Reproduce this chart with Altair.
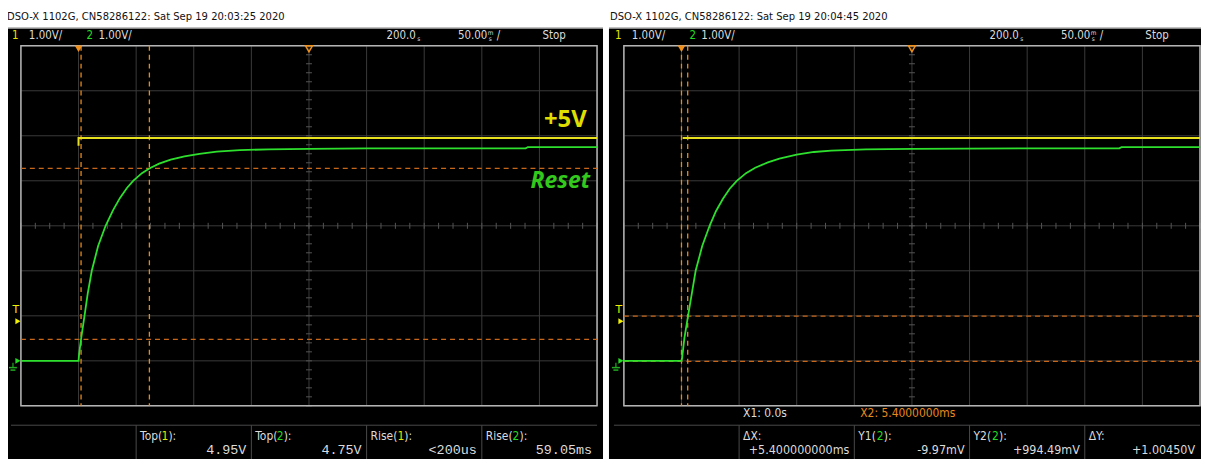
import altair as alt
import pandas as pd

# ---------------- data ----------------
# time in ms relative to trigger, volts
left_green_t = [-50, 0, 0.5, 2.2, 5.2, 8, 11.5, 17, 23.5, 30, 36, 42, 47.4, 55, 61.8, 70, 80, 92,
                105, 120, 140, 165, 200, 250, 300, 388, 390, 450]
left_green_v = [0, 0, 0.15, 0.48, 1.0, 1.5, 2.0, 2.55, 3.0, 3.35, 3.62, 3.84, 4.0, 4.17, 4.28, 4.38,
                4.47, 4.54, 4.6, 4.65, 4.68, 4.70, 4.71, 4.72, 4.72, 4.72, 4.75, 4.75]
right_green_t = [-50, 0, 0.5, 2.5, 5.7, 9, 12.3, 18, 24.4, 30, 36, 42, 48, 56, 64, 75, 85, 100,
                 115, 130, 160, 200, 300, 380, 382, 450]
right_green_v = [0, 0, 0.05, 0.5, 1.0, 1.5, 2.0, 2.55, 3.0, 3.33, 3.6, 3.83, 4.0, 4.17, 4.29, 4.41,
                 4.49, 4.58, 4.64, 4.67, 4.70, 4.71, 4.72, 4.72, 4.75, 4.75]
left_yellow_t = [0, 0, 450]
left_yellow_v = [4.78, 4.95, 4.95]
right_yellow_t = [1.0, 450]
right_yellow_v = [4.95, 4.95]

left_cursor_t = [2.2, 61.5]
left_cursor_v = [0.475, 4.275]
right_cursor_t = [0.0, 5.4]
right_cursor_v = [-0.00997, 0.99449]

trigger_level = 0.88
trigger_time = 0
delay_time = 200

left_title = "DSO-X 1102G, CN58286122: Sat Sep 19 20:03:25 2020"
right_title = "DSO-X 1102G, CN58286122: Sat Sep 19 20:04:45 2020"

left_meas = [("Top(", "1", "):", "4.95V", "#e6e600"),
             ("Top(", "2", "):", "4.75V", "#22dd22"),
             ("Rise(", "1", "):", "<200us", "#e6e600"),
             ("Rise(", "2", "):", "59.05ms", "#22dd22")]
right_meas = [("\u0394X:", "", "", "+5.400000000ms", None),
              ("Y1(", "2", "):", "-9.97mV", "#22dd22"),
              ("Y2(", "2", "):", "+994.49mV", "#22dd22"),
              ("\u0394Y:", "", "", "+1.00450V", None)]

# ---------------- style ----------------
NARROW = "DejaVu Sans Condensed, Liberation Sans Narrow, sans-serif"
MONO = "Liberation Mono, DejaVu Sans Mono, monospace"
TXT = "#dcdcdc"
ORANGE_V = "#e8891c"
ORANGE_H = "#c8671a"
GRID = "#3a3a3a"
PREFIX_W = {"Top(": 21.5, "Rise(": 27.0, "Y1(": 18.6, "Y2(": 18.6}

W, H = 580, 362.5       # plot area of one screen
OY = 36.5               # plot top inside the view
YS = alt.Scale(domain=[-1, 7], range=[OY + H, OY], nice=False, zero=False)
one = pd.DataFrame({"d": [0]})


def txt(s, x, y, color=TXT, size=12, font=NARROW, align="left", weight="normal", style="normal"):
    return alt.Chart(one).mark_text(text=s, align=align, baseline="middle", fontSize=size,
                                    font=font, color=color, fontWeight=weight,
                                    fontStyle=style).encode(x=alt.value(x), y=alt.value(y))


def panel(ox, gt, gv, yt, yv, ct, cv, title, meas, right):
    XS = alt.Scale(domain=[-50, 450], range=[ox, ox + W], nice=False, zero=False)
    oy = OY
    L = []

    def T(s, lx, ly, **kw):
        L.append(txt(s, ox + lx, oy + ly, **kw))

    # black screen background
    L.append(alt.Chart(one).mark_rect(color="black").encode(
        x=alt.value(ox - 15), x2=alt.value(ox + 586), y=alt.value(oy - 17.5), y2=alt.value(oy + 420)))
    L.append(alt.Chart(one).mark_rule(color="#9a9a9a", strokeWidth=1).encode(
        x=alt.value(ox - 15), x2=alt.value(ox + 586), y=alt.value(oy - 18)))
    # grid
    gx = pd.DataFrame({"t": list(range(-50, 451, 50))})
    gy = pd.DataFrame({"v": list(range(-1, 8))})
    L.append(alt.Chart(gx).mark_rule(color=GRID, strokeWidth=1).encode(
        x=alt.X("t:Q", scale=XS, axis=None), y=alt.value(oy), y2=alt.value(oy + H)))
    L.append(alt.Chart(gy).mark_rule(color=GRID, strokeWidth=1).encode(
        y=alt.Y("v:Q", scale=YS, axis=None), x=alt.value(ox), x2=alt.value(ox + W)))
    # minor ticks on centre lines
    mt = pd.DataFrame({"t": [i * 12.5 - 50 for i in range(41)]})
    L.append(alt.Chart(mt).mark_rule(color="#555555", strokeWidth=1).encode(
        x=alt.X("t:Q", scale=XS, axis=None), y=alt.value(oy + H / 2 - 3), y2=alt.value(oy + H / 2 + 3)))
    mv = pd.DataFrame({"v": [i * 0.2 - 1 for i in range(41)]})
    L.append(alt.Chart(mv).mark_rule(color="#555555", strokeWidth=1).encode(
        y=alt.Y("v:Q", scale=YS, axis=None), x=alt.value(ox + W / 2 - 3), x2=alt.value(ox + W / 2 + 3)))
    # border
    L.append(alt.Chart(one).mark_rect(fill="transparent", stroke="#b4b4b4", strokeWidth=1.5).encode(
        x=alt.value(ox), x2=alt.value(ox + W), y=alt.value(oy), y2=alt.value(oy + H)))
    # cursors
    cdt = pd.DataFrame({"t": ct})
    cdv = pd.DataFrame({"v": cv})
    L.append(alt.Chart(cdv).mark_rule(color=ORANGE_H, strokeWidth=1.3, strokeDash=[5, 4]).encode(
        y=alt.Y("v:Q", scale=YS, axis=None), x=alt.value(ox), x2=alt.value(ox + W)))
    L.append(alt.Chart(cdt).mark_rule(color=ORANGE_V, strokeWidth=1.3, strokeDash=[5, 4]).encode(
        x=alt.X("t:Q", scale=XS, axis=None), y=alt.value(oy), y2=alt.value(oy + H)))
    # traces
    ydf = pd.DataFrame({"t": yt, "v": yv, "o": list(range(len(yt)))})
    L.append(alt.Chart(ydf).mark_line(color="#e8e21e", strokeWidth=2).encode(
        x=alt.X("t:Q", scale=XS, axis=None), y=alt.Y("v:Q", scale=YS, axis=None), order="o:Q"))
    gdf = pd.DataFrame({"t": gt, "v": gv, "o": list(range(len(gt)))})
    L.append(alt.Chart(gdf).mark_line(color="#2ee02e", strokeWidth=1.8).encode(
        x=alt.X("t:Q", scale=XS, axis=None), y=alt.Y("v:Q", scale=YS, axis=None), order="o:Q"))
    # top markers: trigger position (filled) and delay (hollow)
    L.append(alt.Chart(pd.DataFrame({"t": [trigger_time]})).mark_point(
        shape="triangle-down", filled=True, color="#f0901c", size=60, opacity=1).encode(
        x=alt.X("t:Q", scale=XS, axis=None), y=alt.value(oy + 3)))
    L.append(alt.Chart(pd.DataFrame({"t": [delay_time]})).mark_point(
        shape="triangle-down", filled=False, color="#f0901c", size=50, strokeWidth=1.5, opacity=1).encode(
        x=alt.X("t:Q", scale=XS, axis=None), y=alt.value(oy + 3)))
    # left markers: trigger level and ground
    L.append(alt.Chart(pd.DataFrame({"v": [trigger_level]})).mark_point(
        shape="triangle-right", filled=True, color="#f0f000", size=35, opacity=1).encode(
        y=alt.Y("v:Q", scale=YS, axis=None), x=alt.value(ox - 3)))
    T("T", -5, 266.5, color="#f0f000", size=11, font="DejaVu Sans", align="center")
    L.append(alt.Chart(pd.DataFrame({"v": [0]})).mark_point(
        shape="triangle-right", filled=True, color="#22dd22", size=35, opacity=1).encode(
        y=alt.Y("v:Q", scale=YS, axis=None), x=alt.value(ox - 3)))
    L.append(alt.Chart(one).mark_rule(color="#22aa22", strokeWidth=1.2).encode(
        x=alt.value(ox - 8), y=alt.value(oy + 319), y2=alt.value(oy + 324)))
    L.append(alt.Chart(one).mark_rule(color="#22aa22", strokeWidth=1.5).encode(
        x=alt.value(ox - 12), x2=alt.value(ox - 4), y=alt.value(oy + 324)))
    L.append(alt.Chart(one).mark_rule(color="#22aa22", strokeWidth=1.5).encode(
        x=alt.value(ox - 10.5), x2=alt.value(ox - 5.5), y=alt.value(oy + 326.5)))
    # title and header
    T(title, -14, -28.5, color="#111111", size=11.2)
    T("1", -9, -9.5, color="#e6e600", size=11.5)
    T("1.00V/", 8, -9.5, size=11.5)
    T("2", 66, -9.5, color="#22dd22", size=11.5)
    T("1.00V/", 78, -9.5, size=11.5)
    T("200.0", 368, -9.5, size=11.5)
    T("s", 399, -6.5, size=6.5)
    T("m", 470, -12.5, size=6.5)
    T("s", 471, -6.5, size=6.5)
    T("50.00", 440, -9.5, size=11.5)
    T("/", 479, -9.5, size=11.5)
    T("Stop", 525, -9.5, size=11.5)
    # measurement area
    L.append(alt.Chart(one).mark_rule(color="#4a4a4a", strokeWidth=1).encode(
        x=alt.value(ox - 10), x2=alt.value(ox + W), y=alt.value(oy + 382)))
    dv = pd.DataFrame({"t": [50, 150, 250, 350]})
    L.append(alt.Chart(dv).mark_rule(color="#4a4a4a", strokeWidth=1).encode(
        x=alt.X("t:Q", scale=XS, axis=None), y=alt.value(oy + 382), y2=alt.value(oy + 420)))
    for i, (a, b, c, val, col) in enumerate(meas):
        x0 = 116 * (i + 1) + 4
        xr = 116 * (i + 2) - 5
        T(a, x0, 393)
        if b:
            wa = PREFIX_W[a]
            T(b, x0 + wa, 393, color=col)
            T(c, x0 + wa + 7, 393)
        if right:
            T(val, xr, 406.5, size=12.5, font=NARROW, align="right")
        else:
            T(val, xr, 406.5, size=13.5, font=MONO, align="right")
    if right:
        T("X1:  0.0s", 120, 369.5)
        T("X2:  5.4000000ms", 238, 369.5, color=ORANGE_V)
    else:
        T("+5V", 548, 74.5, color="#dede00", size=24, font="Open Sans", weight="bold", align="center")
        T("Reset", 543, 136.5, color="#33c81c", size=23, font="Open Sans", weight="bold",
          style="italic", align="center")
    return L


layers = (panel(13, left_green_t, left_green_v, left_yellow_t, left_yellow_v, left_cursor_t,
                left_cursor_v, left_title, left_meas, False)
          + panel(620, right_green_t, right_green_v, right_yellow_t, right_yellow_v, right_cursor_t,
                  right_cursor_v, right_title, right_meas, True))

chart = alt.layer(*layers).resolve_scale(x="independent", y="independent").properties(
    width=1201, height=451,
    autosize=alt.AutoSizeParams(type="none"),
    padding=0,
    background="white",
).configure_view(stroke=None, fill=None)

chart.save("out.html", embed_options={"renderer": "svg", "actions": False})
